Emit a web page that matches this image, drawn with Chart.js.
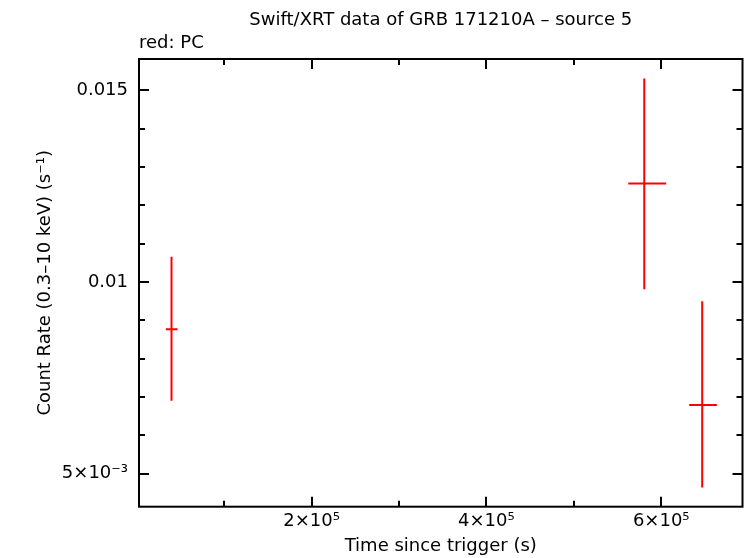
<!DOCTYPE html>
<html>
<head>
<meta charset="utf-8">
<title>Swift/XRT data of GRB 171210A - source 5</title>
<script src="https://cdn.jsdelivr.net/npm/chart.js@4.4.1/dist/chart.umd.min.js"></script>
<style>
  html, body { margin: 0; padding: 0; background: #fff; }
  #wrap { width: 746px; height: 558px; }
</style>
</head>
<body>
<div id="wrap"><canvas id="lc" width="746" height="558"></canvas></div>
<script>
// Swift/XRT light curve, PC mode
const TIMES       = [39700, 580600, 646900];     // s since trigger
const T_ERR_MINUS = [6500, 18300, 14900];
const T_ERR_PLUS  = [6900, 25100, 16800];
const RATES       = [0.00877, 0.01257, 0.00679]; // counts/s
const R_ERR_PLUS  = [0.00189, 0.00274, 0.00271];
const R_ERR_MINUS = [0.00187, 0.00276, 0.00215];

const X_TICKS  = [100000, 200000, 300000, 400000, 500000, 600000];
const X_MAJOR  = [200000, 400000, 600000];
const X_LABELS = ['2×10⁵', '4×10⁵', '6×10⁵'];
const Y_TICKS  = [0.005, 0.006, 0.007, 0.008, 0.009, 0.010, 0.011, 0.012, 0.013, 0.014, 0.015];
const Y_MAJOR  = [0.005, 0.01, 0.015];
const Y_LABELS = ['5×10⁻³', '0.01', '0.015'];

const FONT = '"DejaVu Sans", "Liberation Sans", Arial, sans-serif';

function near(a, b, tol){ return Math.abs(a - b) < tol; }
function tickLabel(v, majors, labels, tol){
  const i = majors.findIndex(m => near(m, v, tol));
  return i >= 0 ? labels[i] : '';
}

// error bars drawn through the chart's scales
const errorBars = {
  id: 'errorBars',
  afterDatasetsDraw(chart){
    const {ctx, scales:{x, y}} = chart;
    ctx.save();
    ctx.strokeStyle = '#ff0000';
    ctx.lineWidth = 2;
    TIMES.forEach((t, i) => {
      const px = x.getPixelForValue(t), py = y.getPixelForValue(RATES[i]);
      ctx.beginPath();
      ctx.moveTo(x.getPixelForValue(t - T_ERR_MINUS[i]), py);
      ctx.lineTo(x.getPixelForValue(t + T_ERR_PLUS[i]), py);
      ctx.moveTo(px, y.getPixelForValue(RATES[i] + R_ERR_PLUS[i]));
      ctx.lineTo(px, y.getPixelForValue(RATES[i] - R_ERR_MINUS[i]));
      ctx.stroke();
    });
    ctx.restore();
  }
};

// box frame with inward ticks on all four sides
const frame = {
  id: 'frame',
  afterDraw(chart){
    const {ctx, chartArea:a, scales:{x, y}} = chart;
    ctx.save();
    ctx.strokeStyle = '#000';
    ctx.lineWidth = 2;
    ctx.strokeRect(a.left, a.top, a.right - a.left, a.bottom - a.top);
    ctx.beginPath();
    x.ticks.forEach(tk => {
      const len = X_MAJOR.some(m => near(m, tk.value, 1)) ? 10 : 6;
      const px = Math.round(x.getPixelForValue(tk.value));
      ctx.moveTo(px, a.bottom); ctx.lineTo(px, a.bottom - len);
      ctx.moveTo(px, a.top); ctx.lineTo(px, a.top + len);
    });
    y.ticks.forEach(tk => {
      const len = Y_MAJOR.some(m => near(m, tk.value, 1e-9)) ? 10 : 6;
      const py = Math.round(y.getPixelForValue(tk.value));
      ctx.moveTo(a.left, py); ctx.lineTo(a.left + len, py);
      ctx.moveTo(a.right, py); ctx.lineTo(a.right - len, py);
    });
    ctx.stroke();
    ctx.restore();
  }
};

Chart.defaults.font.family = FONT;
Chart.defaults.color = '#000';

new Chart(document.getElementById('lc'), {
  type: 'scatter',
  data: {
    datasets: [{
      label: 'PC',
      data: TIMES.map((t, i) => ({x: t, y: RATES[i]})),
      pointRadius: 0,
      borderColor: '#ff0000',
      backgroundColor: '#ff0000'
    }]
  },
  options: {
    responsive: false,
    animation: false,
    layout: { padding: { left: 0, right: 3.5, top: 0, bottom: 0 } },
    plugins: {
      legend: { display: false },
      tooltip: { enabled: false },
      title: {
        display: true, text: 'Swift/XRT data of GRB 171210A – source 5',
        fullSize: false, font: { size: 18, weight: 'normal' },
        padding: { top: 9.8, bottom: 1.4 }
      },
      subtitle: {
        display: true, text: 'red: PC', align: 'start',
        fullSize: false, font: { size: 18, weight: 'normal' }, color: '#000',
        padding: { top: 0, bottom: 4.6 }
      }
    },
    scales: {
      x: {
        type: 'linear', min: 2500, max: 693000,
        grid: { display: false, drawTicks: false },
        border: { display: false },
        afterBuildTicks: s => { s.ticks = X_TICKS.map(v => ({value: v})); },
        ticks: {
          autoSkip: false, maxRotation: 0, padding: 4,
          font: { size: 18 },
          callback: v => tickLabel(v, X_MAJOR, X_LABELS, 1)
        },
        title: {
          display: true, text: 'Time since trigger (s)',
          font: { size: 18 }, padding: { top: 0, bottom: 1.2 }
        },
        afterFit: s => { s.height = 51.3; }
      },
      y: {
        type: 'linear', min: 0.004138, max: 0.015817,
        grid: { display: false, drawTicks: false },
        border: { display: false },
        afterBuildTicks: s => { s.ticks = Y_TICKS.map(v => ({value: v})); },
        ticks: {
          autoSkip: false, padding: 11,
          font: { size: 18 },
          callback: v => tickLabel(v, Y_MAJOR, Y_LABELS, 1e-9)
        },
        title: {
          display: true, text: 'Count Rate (0.3–10 keV) (s⁻¹)',
          font: { size: 18 }, padding: { top: 35, bottom: 0 }
        },
        afterFit: s => { s.width = 139; }
      }
    }
  },
  plugins: [errorBars, frame]
});
</script>
</body>
</html>
